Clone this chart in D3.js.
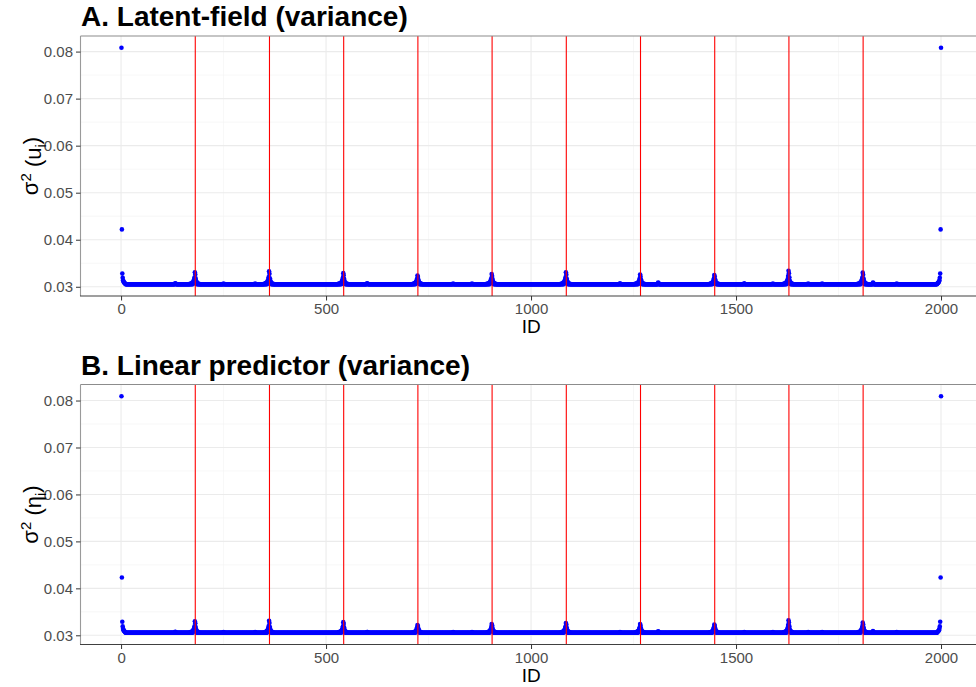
<!DOCTYPE html>
<html><head><meta charset="utf-8">
<script src="https://cdn.jsdelivr.net/npm/d3@7"></script>
<style>
body{margin:0;background:#fff;}
svg{display:block;font-family:"Liberation Sans",Arial,sans-serif;}
</style></head>
<body><svg id="chart" width="976" height="687"></svg>
<script>
// ---------------- DATA ----------------
const nIds = 2000;                       // IDs 1..2000
const boundaries = [181, 362, 543, 724, 905, 1086, 1267, 1448, 1629, 1810];
const bumpOffsets = [-12, -9, -7, -5, -4, -3, -2, -1, 0, 1, 2, 3, 5, 8];
const xTicks = [0, 500, 1000, 1500, 2000];
const xMinor = [250, 750, 1250, 1750];
const yTicks = [0.03, 0.04, 0.05, 0.06, 0.07, 0.08];
const yMinor = [0.035, 0.045, 0.055, 0.065, 0.075];
const yTickLabels = ["0.03", "0.04", "0.05", "0.06", "0.07", "0.08"];

// Panel A: latent field variance
const baseA = 0.03055;
const bumpValuesA = [
  [0.03068,0.03076,0.03088,0.03102,0.03121,0.03152,0.03196,0.03310,0.03262,0.03178,0.03128,0.03098,0.03082,0.03068],
  [0.03066,0.03078,0.03090,0.03105,0.03126,0.03158,0.03205,0.03330,0.03275,0.03182,0.03131,0.03101,0.03083,0.03067],
  [0.03067,0.03075,0.03086,0.03100,0.03119,0.03149,0.03190,0.03290,0.03246,0.03170,0.03124,0.03097,0.03080,0.03066],
  [0.03065,0.03072,0.03082,0.03094,0.03110,0.03135,0.03172,0.03240,0.03210,0.03155,0.03118,0.03094,0.03079,0.03066],
  [0.03066,0.03074,0.03084,0.03098,0.03116,0.03143,0.03182,0.03270,0.03228,0.03163,0.03121,0.03096,0.03080,0.03067],
  [0.03067,0.03076,0.03088,0.03103,0.03123,0.03154,0.03199,0.03310,0.03258,0.03175,0.03127,0.03099,0.03082,0.03068],
  [0.03066,0.03073,0.03083,0.03096,0.03114,0.03140,0.03178,0.03260,0.03220,0.03160,0.03120,0.03095,0.03080,0.03066],
  [0.03065,0.03073,0.03083,0.03096,0.03113,0.03139,0.03176,0.03250,0.03216,0.03158,0.03119,0.03095,0.03079,0.03066],
  [0.03068,0.03078,0.03091,0.03107,0.03129,0.03162,0.03230,0.03340,0.03290,0.03200,0.03133,0.03102,0.03084,0.03068],
  [0.03067,0.03076,0.03088,0.03102,0.03122,0.03153,0.03198,0.03300,0.03255,0.03176,0.03127,0.03098,0.03081,0.03067]
];
const edgeIdsA = [1,2,3,4,5,6,7,8,9,10, 1991,1992,1993,1994,1995,1996,1997,1998,1999,2000];
const edgeValuesA = [0.0808,0.0422,0.0328,0.0319,0.0314,0.0311,0.03095,0.03085,0.03075,0.03068,
                     0.03068,0.03075,0.03085,0.03095,0.0311,0.0314,0.0319,0.0328,0.0422,0.0808];
const minorIdsA = [132,133,250,327,600,601,810,856,1217,1310,1311,1520,1590,1676,1710,1834,1835,1892];
const minorValuesA = [0.03075,0.03070,0.03068,0.03070,0.03072,0.03068,0.03070,0.03068,0.03072,0.03090,0.03078,0.03072,0.03070,0.03068,0.03070,0.03092,0.03078,0.03068];

// Panel B: linear predictor variance
const baseB = 0.03056;
const bumpValuesB = [
  [0.03068,0.03076,0.03087,0.03101,0.03120,0.03150,0.03192,0.03300,0.03255,0.03175,0.03127,0.03098,0.03081,0.03068],
  [0.03066,0.03077,0.03089,0.03103,0.03123,0.03154,0.03198,0.03310,0.03262,0.03178,0.03129,0.03100,0.03082,0.03067],
  [0.03067,0.03075,0.03086,0.03099,0.03118,0.03147,0.03187,0.03280,0.03240,0.03168,0.03123,0.03097,0.03080,0.03066],
  [0.03065,0.03072,0.03081,0.03093,0.03108,0.03132,0.03167,0.03220,0.03198,0.03150,0.03116,0.03093,0.03079,0.03066],
  [0.03066,0.03073,0.03083,0.03096,0.03113,0.03139,0.03176,0.03240,0.03212,0.03158,0.03119,0.03095,0.03080,0.03067],
  [0.03067,0.03075,0.03086,0.03100,0.03118,0.03147,0.03186,0.03260,0.03230,0.03165,0.03123,0.03097,0.03081,0.03068],
  [0.03066,0.03073,0.03083,0.03095,0.03112,0.03137,0.03173,0.03240,0.03210,0.03157,0.03119,0.03095,0.03080,0.03066],
  [0.03065,0.03072,0.03082,0.03095,0.03111,0.03136,0.03171,0.03230,0.03205,0.03155,0.03118,0.03094,0.03079,0.03066],
  [0.03068,0.03077,0.03090,0.03105,0.03126,0.03158,0.03220,0.03320,0.03275,0.03195,0.03131,0.03101,0.03083,0.03068],
  [0.03067,0.03075,0.03087,0.03100,0.03119,0.03148,0.03190,0.03270,0.03236,0.03170,0.03125,0.03097,0.03081,0.03067]
];
const edgeIdsB = [1,2,3,4,5,6,7,8,9,10, 1991,1992,1993,1994,1995,1996,1997,1998,1999,2000];
const edgeValuesB = [0.0809,0.0423,0.0329,0.0319,0.0314,0.0311,0.03095,0.03085,0.03075,0.03068,
                     0.03068,0.03075,0.03085,0.03095,0.0311,0.0314,0.0319,0.0329,0.0423,0.0809];
const minorIdsB = [132,133,250,327,600,601,810,856,1217,1310,1311,1520,1590,1676,1710,1834,1835,1892];
const minorValuesB = [0.03074,0.03070,0.03068,0.03070,0.03071,0.03068,0.03070,0.03068,0.03071,0.03088,0.03077,0.03071,0.03070,0.03068,0.03070,0.03090,0.03077,0.03068];

// ---------------- BUILD SERIES ----------------
function buildSeries(base, bumpValues, edgeIds, edgeValues, minorIds, minorValues) {
  const m = new Map();
  d3.range(1, nIds + 1).forEach(id => m.set(id, base));
  boundaries.forEach((b, i) => bumpOffsets.forEach((o, j) => m.set(b + o, bumpValues[i][j])));
  minorIds.forEach((id, i) => m.set(id, minorValues[i]));
  edgeIds.forEach((id, i) => m.set(id, edgeValues[i]));
  return Array.from(m, ([id, v]) => ({id, v})).sort((a, b) => a.id - b.id);
}
const seriesA = buildSeries(baseA, bumpValuesA, edgeIdsA, edgeValuesA, minorIdsA, minorValuesA);
const seriesB = buildSeries(baseB, bumpValuesB, edgeIdsB, edgeValuesB, minorIdsB, minorValuesB);

// ---------------- DRAW ----------------
const svg = d3.select("#chart");
const left = 80.5, right = 982;

function expand(ext) { const r = ext[1] - ext[0]; return [ext[0] - 0.05 * r, ext[1] + 0.05 * r]; }

function panel(data, top, title, yLabelMain, yLabelSub) {
  const bottom = top + 260;
  const x = d3.scaleLinear().domain(expand([1, nIds])).range([left, right]);
  const y = d3.scaleLinear().domain(expand(d3.extent(data, d => d.v))).range([bottom, top]);
  const g = svg.append("g");

  // grid
  g.selectAll(".ymin").data(yMinor).join("line")
    .attr("x1", left).attr("x2", right).attr("y1", d => y(d)).attr("y2", d => y(d))
    .attr("stroke", "#F2F2F2").attr("stroke-width", 0.6);
  g.selectAll(".xmin").data(xMinor).join("line")
    .attr("y1", top).attr("y2", bottom).attr("x1", d => x(d)).attr("x2", d => x(d))
    .attr("stroke", "#F2F2F2").attr("stroke-width", 0.6);
  g.selectAll(".ymaj").data(yTicks).join("line")
    .attr("x1", left).attr("x2", right).attr("y1", d => y(d)).attr("y2", d => y(d))
    .attr("stroke", "#EBEBEB").attr("stroke-width", 1.1);
  g.selectAll(".xmaj").data(xTicks).join("line")
    .attr("y1", top).attr("y2", bottom).attr("x1", d => x(d)).attr("x2", d => x(d))
    .attr("stroke", "#EBEBEB").attr("stroke-width", 1.1);

  // points
  g.append("g").selectAll("circle").data(data).join("circle")
    .attr("cx", d => x(d.id)).attr("cy", d => y(d.v)).attr("r", 2.3)
    .attr("fill", "#0000FF");

  // boundary lines
  g.selectAll(".bl").data(boundaries).join("line")
    .attr("x1", d => x(d)).attr("x2", d => x(d)).attr("y1", top).attr("y2", bottom)
    .attr("stroke", "#FF0000").attr("stroke-width", 1.1);

  // border
  g.append("line").attr("x1", left).attr("x2", right).attr("y1", top).attr("y2", top)
    .attr("stroke", "#8C8C8C").attr("stroke-width", 1.1);
  g.append("line").attr("x1", left).attr("x2", left).attr("y1", top).attr("y2", bottom)
    .attr("stroke", "#9A9A9A").attr("stroke-width", 1.1);
  g.append("line").attr("x1", left - 0.5).attr("x2", right).attr("y1", bottom).attr("y2", bottom)
    .attr("stroke", "#404040").attr("stroke-width", 1.1);

  // axes
  const yAxis = d3.axisLeft(y).tickValues(yTicks).tickFormat((d, i) => yTickLabels[i]).tickSize(4.5).tickPadding(3);
  const ya = g.append("g").attr("transform", `translate(${left},0)`).call(yAxis);
  ya.select(".domain").remove();
  ya.selectAll("line").attr("stroke", "#333");
  ya.selectAll("text").attr("fill", "#4D4D4D").style("font-size", "15px").style("font-family", "Liberation Sans, Arial, sans-serif");

  const xAxis = d3.axisBottom(x).tickValues(xTicks).tickFormat(d3.format("d")).tickSize(4.5).tickPadding(3);
  const xa = g.append("g").attr("transform", `translate(0,${bottom})`).call(xAxis);
  xa.select(".domain").remove();
  xa.selectAll("line").attr("stroke", "#333");
  xa.selectAll("text").attr("fill", "#4D4D4D").style("font-size", "15px").style("font-family", "Liberation Sans, Arial, sans-serif");

  // titles
  svg.append("text").attr("x", 81).attr("y", top - 10).text(title)
    .style("font-size", "28px").style("font-weight", "bold").attr("fill", "#000");
  svg.append("text").attr("x", (left + right) / 2).attr("y", bottom + 37).attr("text-anchor", "middle")
    .text("ID").style("font-size", "19px").attr("fill", "#000");

  const yt = svg.append("text").attr("transform", `translate(38,${(top + bottom) / 2}) rotate(-90)`)
    .attr("text-anchor", "middle").style("font-size", "22px").attr("fill", "#000");
  yt.append("tspan").text("σ");
  yt.append("tspan").text("2").attr("dy", "-0.45em").style("font-size", "15px");
  yt.append("tspan").text(" (").attr("dy", "0.45em");
  yt.append("tspan").text(yLabelMain);
  yt.append("tspan").text(yLabelSub).attr("dy", "0.3em").style("font-size", "15px");
  yt.append("tspan").text(")").attr("dy", "-0.3em");
}

panel(seriesA, 36, "A. Latent-field (variance)", "u", "i");
panel(seriesB, 384.5, "B. Linear predictor (variance)", "η", "i");
</script></body></html>
